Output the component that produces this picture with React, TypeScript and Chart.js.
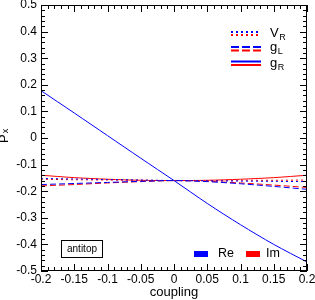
import React, { useEffect, useRef } from "react";
import { Chart, registerables } from "chart.js";

Chart.register(...registerables);

// coupling values (x)
const couplings = [-0.2, -0.15, -0.1, -0.05, 0, 0.05, 0.1, 0.15, 0.2];

// g_R (solid)
const gR_Re = [0.178, 0.094, 0.009, -0.076, -0.16, -0.246, -0.326, -0.4, -0.466];
const gR_Im = [-0.14, -0.149, -0.155, -0.159, -0.16, -0.159, -0.155, -0.149, -0.14];
// g_L (dashed)
const gL_Re = [-0.175, -0.171, -0.167, -0.163, -0.16, -0.164, -0.172, -0.182, -0.193];
const gL_Im = [-0.18, -0.175, -0.169, -0.164, -0.16, -0.163, -0.169, -0.177, -0.186];
// V_R (dotted)
const VR_Re = [-0.152, -0.154, -0.156, -0.158, -0.16, -0.161, -0.162, -0.163, -0.164];
const VR_Im = [-0.155, -0.157, -0.158, -0.159, -0.16, -0.16, -0.159, -0.159, -0.158];

const xTicks = [-0.2, -0.15, -0.1, -0.05, 0, 0.05, 0.1, 0.15, 0.2];
const xTickLabels = ["-0.2", "-0.15", "-0.1", "-0.05", "0", "0.05", "0.1", "0.15", "0.2"];
const yTicks = [-0.5, -0.4, -0.3, -0.2, -0.1, 0, 0.1, 0.2, 0.3, 0.4, 0.5];
const yTickLabels = ["-0.5", "-0.4", "-0.3", "-0.2", "-0.1", "0", "0.1", "0.2", "0.3", "0.4", "0.5"];

const BLUE = "#0000ff";
const RED = "#ff0000";
const FONT = "'Liberation Sans', Arial, sans-serif";

const pts = (arr: number[]) => couplings.map((c, i) => ({ x: c, y: arr[i] }));

const decorPlugin = {
  id: "decor",
  afterDraw(chart: any) {
    const { ctx, chartArea } = chart;
    const { left, right, top, bottom } = chartArea;
    const xs = chart.scales.x;
    const ys = chart.scales.y;
    ctx.save();
    ctx.strokeStyle = "#000";
    ctx.lineWidth = 1;
    ctx.setLineDash([]);
    // frame
    ctx.strokeRect(left + 0.5, top + 0.5, right - left - 1, bottom - top - 1);
    const MAJ = 7, MIN = 4;
    ctx.beginPath();
    for (let i = 0; i < xTicks.length; i++) {
      const px = Math.round(xs.getPixelForValue(xTicks[i])) + 0.5;
      ctx.moveTo(px, bottom); ctx.lineTo(px, bottom - MAJ);
      ctx.moveTo(px, top); ctx.lineTo(px, top + MAJ);
      if (i < xTicks.length - 1) {
        for (let k = 1; k < 5; k++) {
          const v = xTicks[i] + ((xTicks[i + 1] - xTicks[i]) * k) / 5;
          const p = Math.round(xs.getPixelForValue(v)) + 0.5;
          ctx.moveTo(p, bottom); ctx.lineTo(p, bottom - MIN);
          ctx.moveTo(p, top); ctx.lineTo(p, top + MIN);
        }
      }
    }
    for (let i = 0; i < yTicks.length; i++) {
      const py = Math.round(ys.getPixelForValue(yTicks[i])) + 0.5;
      ctx.moveTo(left, py); ctx.lineTo(left + MAJ, py);
      ctx.moveTo(right, py); ctx.lineTo(right - MAJ, py);
      if (i < yTicks.length - 1) {
        for (let k = 1; k < 5; k++) {
          const v = yTicks[i] + ((yTicks[i + 1] - yTicks[i]) * k) / 5;
          const p = Math.round(ys.getPixelForValue(v)) + 0.5;
          ctx.moveTo(left, p); ctx.lineTo(left + MIN, p);
          ctx.moveTo(right, p); ctx.lineTo(right - MIN, p);
        }
      }
    }
    ctx.stroke();

    // y axis title P_x (rotated)
    ctx.save();
    ctx.translate(8, 143);
    ctx.rotate(-Math.PI / 2);
    ctx.fillStyle = "#000";
    ctx.textBaseline = "alphabetic";
    ctx.textAlign = "left";
    ctx.font = `13px ${FONT}`;
    ctx.fillText("P", 0, 0);
    const pw = ctx.measureText("P").width;
    ctx.font = `9px ${FONT}`;
    ctx.fillText("x", pw + 1, 0);
    ctx.restore();

    // top-right legend
    const lx0 = 231, lx1 = 261;
    const drawLine = (y: number, color: string, dash: number[]) => {
      ctx.beginPath();
      ctx.strokeStyle = color;
      ctx.lineWidth = 2;
      ctx.setLineDash(dash);
      ctx.moveTo(lx0, y);
      ctx.lineTo(lx1, y);
      ctx.stroke();
    };
    drawLine(32, BLUE, [2, 3]);
    drawLine(35, RED, [2, 3]);
    drawLine(47, BLUE, [8, 3]);
    drawLine(50.5, RED, [8, 3]);
    drawLine(61.5, BLUE, []);
    drawLine(65, RED, []);
    ctx.setLineDash([]);
    ctx.fillStyle = "#000";
    ctx.textAlign = "left";
    ctx.textBaseline = "alphabetic";
    const label = (main: string, sub: string, y: number) => {
      ctx.font = `13px ${FONT}`;
      ctx.fillText(main, 270, y);
      const w = ctx.measureText(main).width;
      ctx.font = `9px ${FONT}`;
      ctx.fillText(sub, 270 + w + 0.5, y + 3);
    };
    label("V", "R", 36.5);
    label("g", "L", 51);
    label("g", "R", 66.5);

    // bottom legend Re / Im
    ctx.fillStyle = BLUE;
    ctx.fillRect(194, 251, 14, 6);
    ctx.fillStyle = RED;
    ctx.fillRect(246, 251, 14, 6);
    ctx.fillStyle = "#000";
    ctx.font = `12.5px ${FONT}`;
    ctx.fillText("Re", 218, 257);
    ctx.fillText("Im", 266, 257);

    // antitop box
    ctx.strokeStyle = "#000";
    ctx.lineWidth = 1;
    ctx.strokeRect(61.5, 240.5, 41, 17);
    ctx.font = `10px ${FONT}`;
    ctx.textAlign = "center";
    ctx.textBaseline = "middle";
    ctx.fillText("antitop", 82, 249);
    ctx.restore();
  },
};

export default function App() {
  const ref = useRef<HTMLCanvasElement | null>(null);
  useEffect(() => {
    if (!ref.current) return;
    const ds = (arr: number[], color: string, dash: number[]) => ({
      data: pts(arr),
      borderColor: color,
      backgroundColor: color,
      borderWidth: 1,
      borderDash: dash,
      pointRadius: 0,
      tension: 0.3,
      fill: false,
    });
    const chart = new Chart(ref.current, {
      type: "line",
      data: {
        datasets: [
          ds(VR_Re, BLUE, [2, 3]),
          ds(VR_Im, RED, [2, 3]),
          ds(gL_Re, BLUE, [6, 3]),
          ds(gL_Im, RED, [6, 3]),
          ds(gR_Re, BLUE, []),
          ds(gR_Im, RED, []),
        ],
      },
      options: {
        responsive: false,
        animation: false,
        layout: { padding: { top: 5, right: 8, left: 0, bottom: 0 } },
        plugins: { legend: { display: false }, tooltip: { enabled: false } },
        scales: {
          x: {
            type: "linear",
            min: -0.2,
            max: 0.2,
            grid: { display: false, drawTicks: false },
            border: { display: false },
            afterBuildTicks: (s: any) => {
              s.ticks = xTicks.map((v) => ({ value: v }));
            },
            afterFit: (s: any) => {
              s.height = 29;
              s.paddingLeft = 0; s.paddingRight = 0; s.paddingTop = 0; s.paddingBottom = 0;
            },
            ticks: {
              autoSkip: false,
              maxRotation: 0,
              padding: 1,
              color: "#000",
              font: { family: FONT, size: 12 },
              callback: (v: any) => {
                const i = xTicks.findIndex((t) => Math.abs(t - v) < 1e-9);
                return i >= 0 ? xTickLabels[i] : "";
              },
            },
            title: {
              display: true,
              text: "coupling",
              color: "#000",
              font: { family: FONT, size: 13 },
              padding: { top: 0, bottom: 0 },
            },
          },
          y: {
            type: "linear",
            min: -0.5,
            max: 0.5,
            grid: { display: false, drawTicks: false },
            border: { display: false },
            afterBuildTicks: (s: any) => {
              s.ticks = yTicks.map((v) => ({ value: v }));
            },
            afterFit: (s: any) => {
              s.width = 41;
              s.paddingLeft = 0; s.paddingRight = 0; s.paddingTop = 0; s.paddingBottom = 0;
            },
            ticks: {
              autoSkip: false,
              padding: 4,
              color: "#000",
              font: { family: FONT, size: 12 },
              callback: (v: any) => {
                const i = yTicks.findIndex((t) => Math.abs(t - v) < 1e-9);
                return i >= 0 ? yTickLabels[i] : "";
              },
            },
          },
        },
      },
      plugins: [decorPlugin],
    } as any);
    return () => chart.destroy();
  }, []);
  return (
    <div style={{ position: "absolute", left: 0, top: 0, width: 315, height: 300, background: "#fff" }}>
      <canvas ref={ref} width={315} height={300} style={{ display: "block" }} />
    </div>
  );
}
